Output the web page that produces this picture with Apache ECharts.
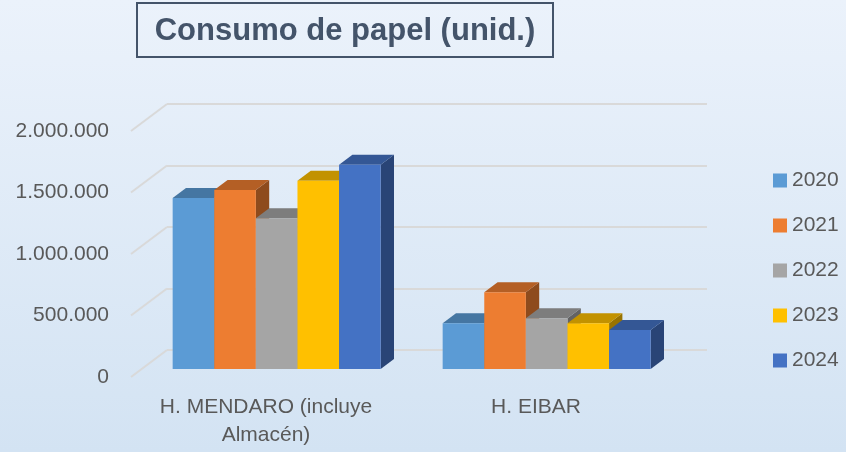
<!DOCTYPE html>
<html>
<head>
<meta charset="utf-8">
<script src="https://cdn.jsdelivr.net/npm/echarts@6/dist/echarts.min.js"></script>
<style>
    html, body { margin: 0; padding: 0; }
    #chart { width: 846px; height: 452px; }
</style>
</head>
<body>
<div id="chart"></div>
<script>
// Data
const categories = ['H. MENDARO (incluye\nAlmacén)', 'H. EIBAR'];
const years = ['2020', '2021', '2022', '2023', '2024'];
const values2020 = [1390000, 372000];
const values2021 = [1455000, 623000];
const values2022 = [1225000, 412000];
const values2023 = [1530000, 372000];
const values2024 = [1660000, 317000];
const yTicks = [0, 500000, 1000000, 1500000, 2000000];

const seriesValues = [values2020, values2021, values2022, values2023, values2024];
const colors = ['#5B9BD5', '#ED7D31', '#A5A5A5', '#FFC000', '#4472C4'];

// 3D look: offsets between front plane and back wall
const DEPTH_X = 36;
const DEPTH_Y = 27;
const BAR_FRONT = 8 / 27;   // bar front face, as fraction of depth
const BAR_DEPTH = 10 / 27;  // bar depth, as fraction of depth
const GROUP_RATIO = 208 / 270;

function shade(hex, f) {
    const n = parseInt(hex.slice(1), 16);
    const r = Math.round(((n >> 16) & 255) * f);
    const g = Math.round(((n >> 8) & 255) * f);
    const b = Math.round((n & 255) * f);
    return `rgb(${r},${g},${b})`;
}

function fmt(v) {
    return String(v).replace(/\B(?=(\d{3})+(?!\d))/g, '.');
}

function makeBarRenderer(idx, color) {
    return function (params, api) {
        const cat = api.value(0);
        const val = api.value(1);
        const base = api.coord([cat, 0]);
        const top = api.coord([cat, val]);
        const catW = api.size([1, 0])[0];
        const barW = catW * GROUP_RATIO / years.length;
        const ox = DEPTH_X * BAR_FRONT, oy = DEPTH_Y * BAR_FRONT;
        const dx = DEPTH_X * BAR_DEPTH, dy = DEPTH_Y * BAR_DEPTH;
        const x0 = base[0] - catW * GROUP_RATIO / 2 + idx * barW + ox;
        const x1 = x0 + barW;
        const yB = base[1] - oy;
        const yT = top[1] - oy;
        return {
            type: 'group',
            children: [
                {
                    type: 'polygon',
                    shape: { points: [[x1, yT], [x1 + dx, yT - dy], [x1 + dx, yB - dy], [x1, yB]] },
                    style: { fill: shade(color, 0.6) }
                },
                {
                    type: 'polygon',
                    shape: { points: [[x0, yT], [x1, yT], [x1 + dx, yT - dy], [x0 + dx, yT - dy]] },
                    style: { fill: shade(color, 0.76) }
                },
                {
                    type: 'rect',
                    shape: { x: x0, y: yT, width: barW, height: yB - yT },
                    style: { fill: color }
                }
            ]
        };
    };
}

const chart = echarts.init(document.getElementById('chart'));

const barSeries = years.map((y, i) => ({
    name: y,
    type: 'custom',
    xAxisIndex: 0,
    yAxisIndex: 0,
    itemStyle: { color: colors[i] },
    data: seriesValues[i].map((v, c) => [c, v]),
    encode: { x: 0, y: 1 },
    renderItem: makeBarRenderer(i, colors[i])
}));

const option = {
    backgroundColor: new echarts.graphic.LinearGradient(0, 0, 0, 1, [
        { offset: 0, color: '#EBF2FB' },
        { offset: 1, color: '#D3E3F3' }
    ]),
    animation: false,
    graphic: [
        {
            type: 'rect',
            shape: { x: 137, y: 3, width: 416, height: 54 },
            style: { fill: 'transparent', stroke: '#44546A', lineWidth: 2 }
        },
        {
            type: 'text',
            x: 345,
            y: 31,
            style: {
                text: 'Consumo de papel (unid.)',
                fill: '#44546A',
                font: 'bold 31px "Liberation Sans", Arial, sans-serif',
                align: 'center',
                verticalAlign: 'middle'
            }
        }
    ],
    legend: {
        data: years,
        orient: 'vertical',
        left: 773,
        top: 170,
        padding: 0,
        icon: 'rect',
        itemWidth: 14,
        itemHeight: 14,
        itemGap: 24,
        textStyle: {
            color: '#595959',
            fontSize: 21,
            fontFamily: 'Liberation Sans',
            lineHeight: 21
        }
    },
    grid: [
        { left: 131, right: 175, top: 131, bottom: 75 },   // front plane
        { left: 167, right: 139, top: 104, bottom: 102 }   // back wall
    ],
    xAxis: [
        {
            type: 'category',
            gridIndex: 0,
            data: categories,
            axisLine: { show: false },
            axisTick: { show: false },
            axisLabel: {
                interval: 0,
                color: '#595959',
                fontSize: 21,
                fontFamily: 'Liberation Sans',
                lineHeight: 28,
                margin: 16
            }
        },
        {
            type: 'value',
            gridIndex: 1,
            show: false
        }
    ],
    yAxis: [
        {
            type: 'value',
            gridIndex: 0,
            min: 0,
            max: 2000000,
            interval: 500000,
            axisLine: { show: false },
            axisTick: { show: false },
            splitLine: { show: false },
            axisLabel: {
                color: '#595959',
                fontSize: 21,
                fontFamily: 'Liberation Sans',
                margin: 22,
                formatter: fmt
            }
        },
        {
            type: 'value',
            gridIndex: 1,
            min: 0,
            max: 2000000,
            interval: 500000,
            axisLine: { show: false },
            axisTick: { show: false },
            axisLabel: { show: false },
            splitLine: { lineStyle: { color: '#D9D9D9', width: 2 } }
        }
    ],
    series: [
        {
            name: 'wall',
            type: 'custom',
            silent: true,
            xAxisIndex: 0,
            yAxisIndex: 0,
            data: yTicks.map(v => [0, v]),
            encode: { x: 0, y: 1 },
            renderItem: function (params, api) {
                const y = api.coord([0, api.value(1)])[1];
                const x = params.coordSys.x;
                return {
                    type: 'line',
                    shape: { x1: x, y1: y, x2: x + DEPTH_X, y2: y - DEPTH_Y },
                    style: { stroke: '#D9D9D9', lineWidth: 2 }
                };
            }
        }
    ].concat(barSeries)
};

chart.setOption(option);
</script>
</body>
</html>
